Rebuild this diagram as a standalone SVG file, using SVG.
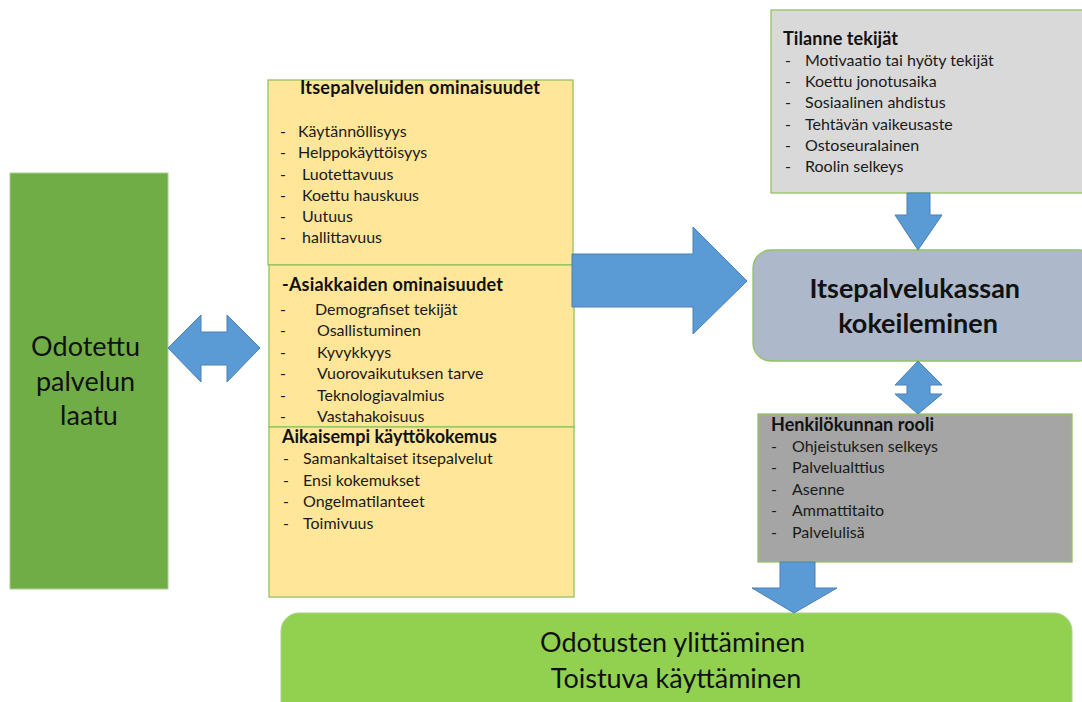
<svg xmlns="http://www.w3.org/2000/svg" width="1082" height="702" viewBox="0 0 1082 702">
  <style>
    .t { font-family: Lato, "Liberation Sans", sans-serif; font-size: 16px; fill: #1a1a1a; }
    .h { font-family: Lato, "Liberation Sans", sans-serif; font-size: 18px; font-weight: bold; fill: #111; }
    .big { font-family: Lato, "Liberation Sans", sans-serif; fill: #111; }
    .yellow { fill: #ffe699; stroke: #93c35f; stroke-width: 1.3; }
    .arrow { fill: #5b9bd5; stroke: #4a80b3; stroke-width: 1; }
  </style>
  <rect width="1082" height="702" fill="#ffffff"/>

  <!-- expected service quality -->
  <g id="odotettu">
    <rect x="10" y="173" width="158" height="416" fill="#70ad47" stroke="#a9d18e" stroke-width="1"/>
    <text class="big" font-size="27" text-anchor="middle">
      <tspan x="89" y="356">Odotettu</tspan>
      <tspan x="89" y="391">palvelun</tspan>
      <tspan x="89" y="425">laatu</tspan>
    </text>
  </g>

  <!-- self-service features -->
  <g id="itsepalvelut">
    <rect class="yellow" x="268" y="80" width="305" height="185"/>
    <text class="h" x="300" y="94" textLength="240">Itsepalveluiden ominaisuudet</text>
    <g class="t">
      <text x="280" y="137">-</text><text x="298" y="137">Käytännöllisyys</text>
      <text x="280" y="158">-</text><text x="298" y="158">Helppokäyttöisyys</text>
      <text x="280" y="180">-</text><text x="302" y="180">Luotettavuus</text>
      <text x="280" y="201">-</text><text x="302" y="201">Koettu hauskuus</text>
      <text x="280" y="222">-</text><text x="302" y="222">Uutuus</text>
      <text x="280" y="243">-</text><text x="302" y="243">hallittavuus</text>
    </g>
  </g>

  <!-- customer features -->
  <g id="asiakkaat">
    <rect class="yellow" x="269" y="265" width="305" height="162"/>
    <text class="h" x="282" y="291" textLength="221">-Asiakkaiden ominaisuudet</text>
    <g class="t">
      <text x="280" y="315">-</text><text x="315" y="315">Demografiset tekijät</text>
      <text x="280" y="336">-</text><text x="317" y="336">Osallistuminen</text>
      <text x="280" y="358">-</text><text x="317" y="358">Kyvykkyys</text>
      <text x="280" y="379">-</text><text x="317" y="379">Vuorovaikutuksen tarve</text>
      <text x="280" y="401">-</text><text x="317" y="401">Teknologiavalmius</text>
      <text x="280" y="422">-</text><text x="317" y="422">Vastahakoisuus</text>
    </g>
  </g>

  <!-- previous usage experience -->
  <g id="kokemus">
    <rect class="yellow" x="269" y="427" width="305" height="170"/>
    <text class="h" x="282" y="443" textLength="215">Aikaisempi käyttökokemus</text>
    <g class="t">
      <text x="283" y="464">-</text><text x="303" y="464">Samankaltaiset itsepalvelut</text>
      <text x="283" y="486">-</text><text x="303" y="486">Ensi kokemukset</text>
      <text x="283" y="507">-</text><text x="303" y="507">Ongelmatilanteet</text>
      <text x="283" y="529">-</text><text x="303" y="529">Toimivuus</text>
    </g>
  </g>

  <!-- situational factors -->
  <g id="tilanne">
    <rect x="771" y="10" width="320" height="183" fill="#d9d9d9" stroke="#93c35f" stroke-width="1.3"/>
    <text class="h" x="783" y="45" textLength="115">Tilanne tekijät</text>
    <g class="t">
      <text x="785" y="66">-</text><text x="805" y="66">Motivaatio tai hyöty tekijät</text>
      <text x="785" y="87">-</text><text x="805" y="87">Koettu jonotusaika</text>
      <text x="785" y="108">-</text><text x="805" y="108">Sosiaalinen ahdistus</text>
      <text x="785" y="130">-</text><text x="805" y="130">Tehtävän vaikeusaste</text>
      <text x="785" y="151">-</text><text x="805" y="151">Ostoseuralainen</text>
      <text x="785" y="172">-</text><text x="805" y="172">Roolin selkeys</text>
    </g>
  </g>

  <!-- trying the self-checkout -->
  <g id="kokeileminen">
    <rect x="753" y="250" width="345" height="111" rx="18" fill="#adb9ca" stroke="#93c35f" stroke-width="1.3"/>
    <text class="big" font-size="27" font-weight="bold" text-anchor="middle">
      <tspan x="918" y="298">Itsepalvelukassan</tspan>
      <tspan x="918" y="333">kokeileminen</tspan>
    </text>
  </g>

  <!-- staff role -->
  <g id="henkilokunta">
    <rect x="758" y="414" width="314" height="148" fill="#a5a5a5" stroke="#93c35f" stroke-width="1.3"/>
    <text class="h" x="771" y="431" textLength="163">Henkilökunnan rooli</text>
    <g class="t">
      <text x="771" y="452">-</text><text x="792" y="452">Ohjeistuksen selkeys</text>
      <text x="771" y="473">-</text><text x="792" y="473">Palvelualttius</text>
      <text x="771" y="495">-</text><text x="792" y="495">Asenne</text>
      <text x="771" y="516">-</text><text x="792" y="516">Ammattitaito</text>
      <text x="771" y="538">-</text><text x="792" y="538">Palvelulisä</text>
    </g>
  </g>

  <!-- outcome -->
  <g id="tulos">
    <rect x="281" y="613" width="791" height="110" rx="18" fill="#92d050" stroke="#a9d18e" stroke-width="1"/>
    <text class="big" font-size="27" text-anchor="middle">
      <tspan x="676" y="652">Odotusten ylittäminen</tspan>
      <tspan x="676" y="688">Toistuva käyttäminen</tspan>
    </text>
  </g>

  <!-- block arrows between the boxes -->
  <g id="connectors">
    <polygon class="arrow" points="168,348 201,315 201,332 227,332 227,315 260,348 227,382 227,365 201,365 201,382"/>
    <polygon class="arrow" points="572,254 693,254 693,227 747,281 693,334 693,307 572,307"/>
    <polygon class="arrow" points="907,193 930,193 930,215 942,215 918,250 895,215 907,215"/>
    <polygon class="arrow" points="918,361 942,385 930,385 930,394 942,394 918,414 895,394 907,394 907,385 895,385"/>
    <polygon class="arrow" points="780,562 815,562 815,588 837,588 794,613 752,588 780,588"/>
  </g>
</svg>
